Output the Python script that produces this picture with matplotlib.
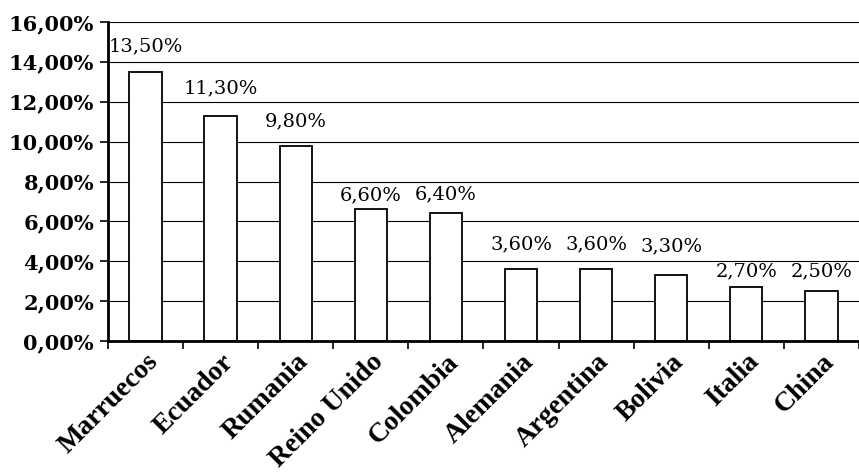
import matplotlib
matplotlib.use("Agg")
import matplotlib.pyplot as plt
from matplotlib.ticker import FuncFormatter, FixedLocator
import numpy as np

countries = ["Marruecos", "Ecuador", "Rumania", "Reino Unido", "Colombia",
             "Alemania", "Argentina", "Bolivia", "Italia", "China"]
values = [13.5, 11.3, 9.8, 6.6, 6.4, 3.6, 3.6, 3.3, 2.7, 2.5]
yticks = [0, 2, 4, 6, 8, 10, 12, 14, 16]

# label vertical offsets in points (style)
label_offsets = [12, 13, 11, 4, 7, 11.5, 11.5, 14, 5, 8]

plt.rcParams['font.family'] = ['DejaVu Serif']

fig = plt.figure(figsize=(8.59, 4.72), dpi=100)
ax = fig.add_axes([0.1257, 0.2775, 0.8743, 0.6759])

x = np.arange(len(countries))
ax.bar(x, values, width=0.43, color="white", edgecolor="black", linewidth=1.3, zorder=3)

ax.set_xlim(-0.5, len(countries) - 0.5)
ax.set_ylim(0, 16)
ax.yaxis.set_major_locator(FixedLocator(yticks))
ax.yaxis.set_major_formatter(FuncFormatter(lambda v, p: f"{v:.2f}".replace(".", ",") + "%"))
ax.grid(axis="y", color="black", linewidth=0.8, zorder=0)

ax.set_xticks(x)
ax.set_xticklabels(countries, rotation=45, ha="right", rotation_mode="anchor",
                   fontsize=20, fontweight="bold", family="Liberation Serif")
ax.tick_params(axis="x", which="major", length=0, pad=6)
ax.set_xticks(np.arange(len(countries) + 1) - 0.5, minor=True)
ax.tick_params(axis="x", which="minor", length=6, width=1.2, direction="out")
ax.tick_params(axis="y", length=6, width=1.2, direction="out", pad=4, labelsize=15)
for lab in ax.get_yticklabels():
    lab.set_fontweight("bold")

for s in ["top", "right"]:
    ax.spines[s].set_visible(False)
ax.spines["left"].set_linewidth(2)
ax.spines["bottom"].set_linewidth(2)
ax.spines["bottom"].set_zorder(4)

for xi, v, off in zip(x, values, label_offsets):
    ax.annotate(f"{v:.2f}".replace(".", ",") + "%", (xi, v), xytext=(0, off),
                textcoords="offset points", ha="center", va="bottom", fontsize=14)

fig.savefig("out.png", dpi=100)
